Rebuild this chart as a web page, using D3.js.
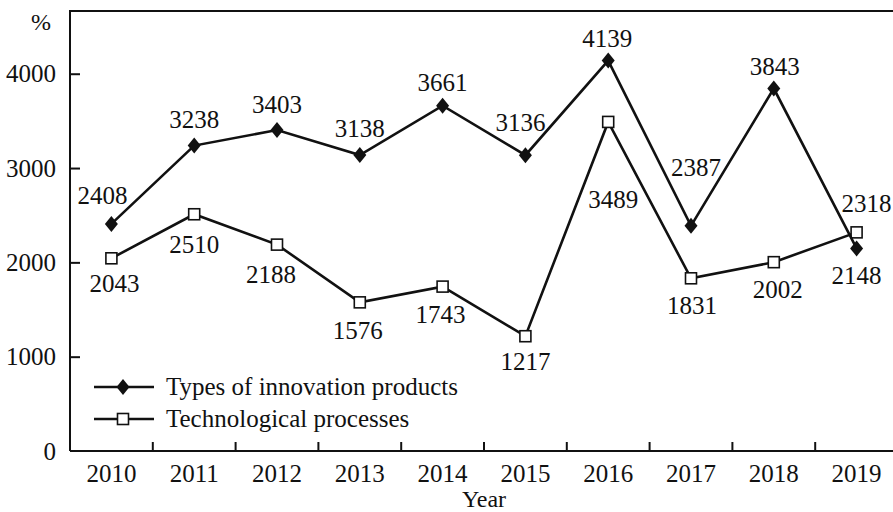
<!DOCTYPE html>
<html>
<head>
<meta charset="utf-8">
<script src="https://cdn.jsdelivr.net/npm/d3@7"></script>
<style>
  body { margin: 0; background: #fff; }
  svg text { font-family: "Liberation Serif", "DejaVu Serif", serif; fill: #111; }
</style>
</head>
<body>
<svg id="chart" width="893" height="512"></svg>
<script>
// data
var years = ["2010", "2011", "2012", "2013", "2014", "2015", "2016", "2017", "2018", "2019"];
var productTypes = [2408, 3238, 3403, 3138, 3661, 3136, 4139, 2387, 3843, 2148];
var techProcesses = [2043, 2510, 2188, 1576, 1743, 1217, 3489, 1831, 2002, 2318];
var yTicks = [0, 1000, 2000, 3000, 4000];
var seriesNames = ["Types of innovation products", "Technological processes"];

// where each value label sits relative to its marker (dx, dy)
var productLabelOff = [[-9,-29],[0,-26],[0,-26],[0,-27],[0,-23],[-5,-33],[-1,-22],[5,-59],[1,-22],[0,27]];
var techLabelOff = [[3,25],[0,30],[-6,30],[-2,28],[-2,28],[0,25],[5,77],[1,27],[4,27],[10,-29]];

var svg = d3.select("#chart");
// plot box (note: "top" is taken by window.top, so use other names)
var plotL = 70, plotR = 898, plotT = 11, plotB = 451;

var x = d3.scaleBand().domain(years).range([plotL, plotR]);
var y = d3.scaleLinear().domain([0, 4665]).range([plotB, plotT]);
var cx = function(i) { return x(years[i]) + x.bandwidth() / 2; };

// frame: left axis, top line
svg.append("path")
  .attr("d", "M" + plotR + "," + plotT + "H" + plotL + "V" + plotB)
  .attr("fill", "none").attr("stroke", "#111").attr("stroke-width", 2);

// y axis (ticks pointing inward)
var yAxis = svg.append("g").attr("transform", "translate(" + plotL + ",0)")
  .call(d3.axisRight(y).tickValues(yTicks).tickSize(10).tickFormat(""));
yAxis.select(".domain").remove();
yAxis.selectAll("line").attr("stroke", "#111").attr("stroke-width", 2);
yAxis.selectAll("g.tick").filter(function(d) { return d === 0; }).select("line").remove();

svg.selectAll(".ylab").data(yTicks).enter().append("text")
  .attr("x", 56).attr("y", function(d) { return y(d); }).attr("dy", "0.35em")
  .attr("text-anchor", "end").style("font-size", "25px")
  .text(function(d) { return d; });

svg.append("text").attr("x", 41).attr("y", 22).attr("dy", "0.35em")
  .attr("text-anchor", "middle").style("font-size", "24px").text("%");

// x axis: ticks at band boundaries, pointing up
svg.append("line").attr("x1", plotL).attr("x2", 893).attr("y1", plotB).attr("y2", plotB)
  .attr("stroke", "#111").attr("stroke-width", 2);
svg.selectAll(".xtick").data(years.slice(1)).enter().append("line")
  .attr("x1", function(d) { return x(d); }).attr("x2", function(d) { return x(d); })
  .attr("y1", plotB).attr("y2", plotB - 9)
  .attr("stroke", "#111").attr("stroke-width", 2);
svg.selectAll(".xlab").data(years).enter().append("text")
  .attr("x", function(d) { return x(d) + x.bandwidth() / 2; }).attr("y", 473).attr("dy", "0.35em")
  .attr("text-anchor", "middle").style("font-size", "25px")
  .text(function(d) { return d; });
svg.append("text").attr("x", (plotL + plotR) / 2).attr("y", 499).attr("dy", "0.35em")
  .attr("text-anchor", "middle").style("font-size", "24px").text("Year");

var line = d3.line().x(function(d, i) { return cx(i); }).y(function(d) { return y(d); });

function diamond(g, px, py) {
  g.append("path")
    .attr("d", "M" + px + "," + (py - 8) + "L" + (px + 6.5) + "," + py + "L" + px + "," + (py + 8) + "L" + (px - 6.5) + "," + py + "Z")
    .attr("fill", "#111");
}
function square(g, px, py) {
  g.append("rect").attr("x", px - 5.5).attr("y", py - 5.5).attr("width", 11).attr("height", 11)
    .attr("fill", "#fff").attr("stroke", "#111").attr("stroke-width", 1.6);
}

function drawSeries(values, marker, offs) {
  var g = svg.append("g");
  g.append("path").datum(values).attr("d", line)
    .attr("fill", "none").attr("stroke", "#111").attr("stroke-width", 2.6).attr("stroke-linejoin", "miter");
  values.forEach(function(v, i) { marker(g, cx(i), y(v)); });
  g.selectAll("text").data(values).enter().append("text")
    .attr("x", function(d, i) { return cx(i) + offs[i][0]; })
    .attr("y", function(d, i) { return y(d) + offs[i][1]; })
    .attr("dy", "0.35em").attr("text-anchor", "middle").style("font-size", "25px")
    .text(function(d) { return d; });
}

drawSeries(techProcesses, square, techLabelOff);
drawSeries(productTypes, diamond, productLabelOff);

// legend
var legend = svg.append("g");
[0, 1].forEach(function(k) {
  var ly = 387 + k * 32;
  legend.append("line").attr("x1", 94).attr("x2", 154).attr("y1", ly).attr("y2", ly)
    .attr("stroke", "#111").attr("stroke-width", 2.6);
  if (k === 0) diamond(legend, 123, ly); else square(legend, 123, ly);
  legend.append("text").attr("x", 166).attr("y", ly).attr("dy", "0.3em")
    .style("font-size", "25px").text(seriesNames[k]);
});
</script>
</body>
</html>
